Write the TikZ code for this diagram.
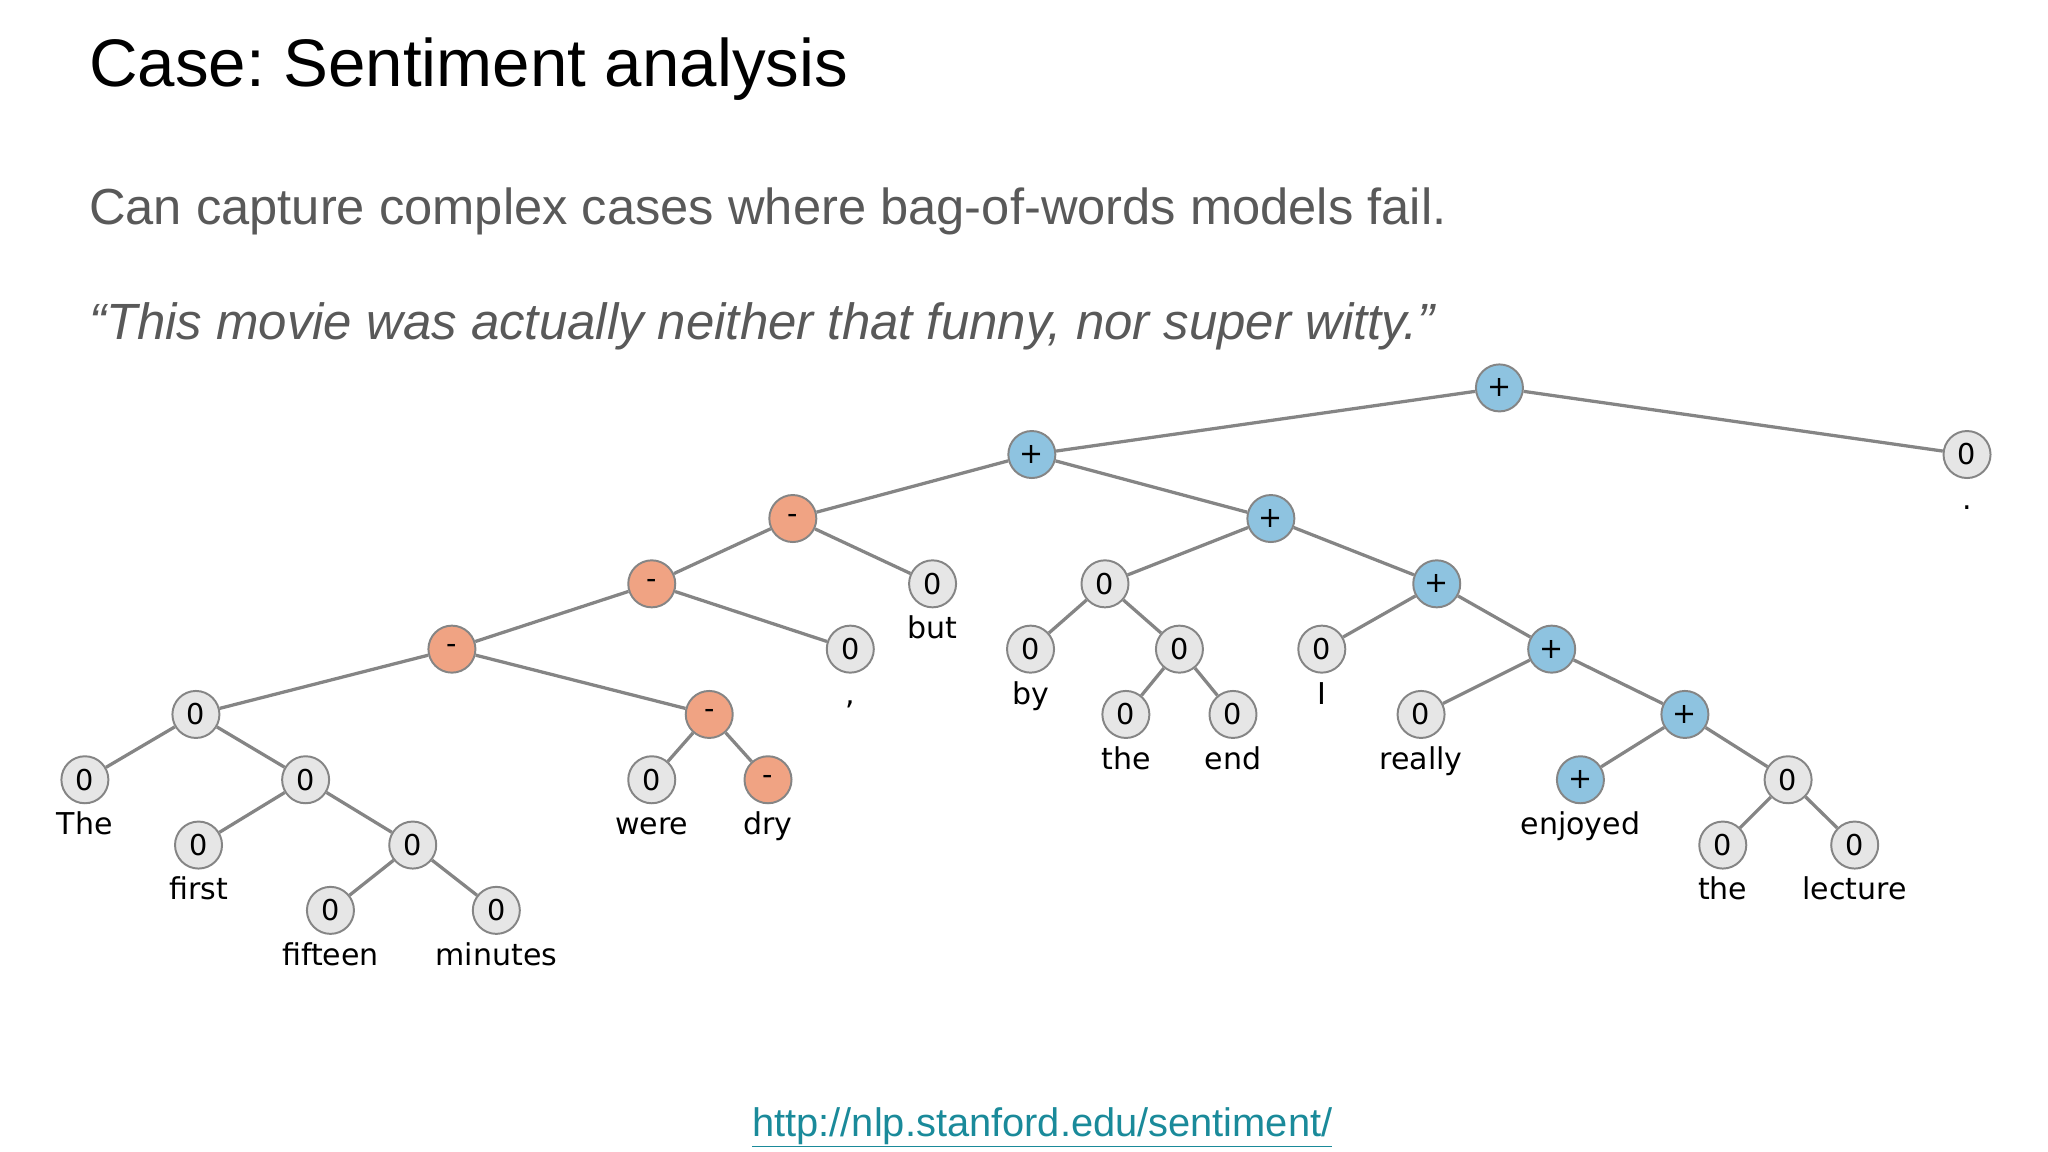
\documentclass[tikz,border=0pt]{standalone}
\usepackage{fontspec}
\setmainfont{Liberation Sans}
\newfontfamily\treefont{DejaVu Sans}
\frenchspacing
\definecolor{pos}{HTML}{8EC3E0}
\definecolor{neg}{HTML}{F0A383}
\definecolor{neu}{HTML}{E6E6E6}
\definecolor{edgec}{HTML}{858585}
\definecolor{txtgray}{HTML}{595959}
\definecolor{linkc}{HTML}{1A8A9A}
\begin{document}
\begin{tikzpicture}[x=1pt,y=-1pt,
  tn/.style={circle,draw=edgec,line width=1.5pt,minimum size=36pt,inner sep=0pt,font=\treefont\fontsize{22}{22}\selectfont},
  pn/.style={tn,fill=pos},
  nn/.style={tn,fill=neg},
  zn/.style={tn,fill=neu},
  lab/.style={font=\treefont\fontsize{23}{23}\selectfont,anchor=base},
  ed/.style={draw=edgec,line width=2.5pt},
  hd/.style={anchor=base west,inner sep=0pt}]
\useasboundingbox (0,0) rectangle (1568,882);
\node[hd,font=\fontsize{51.5}{51.5}\selectfont] (title) at (68,66) {Case: Sentiment analysis};
\node[hd,font=\fontsize{38.8}{38.8}\selectfont,text=txtgray] (sub) at (68,172) {Can capture complex cases where bag-of-words models fail.};
\node[hd,font=\itshape\fontsize{39}{39}\selectfont,text=txtgray] (quote) at (68,260) {“This movie was actually neither that funny, nor super witty.”};
\node[anchor=base,inner sep=0pt,font=\fontsize{30.5}{30.5}\selectfont,text=linkc] (url) at (798,870) {\underline{http://nlp.stanford.edu/sentiment/}};
% nodes
\node[pn] (r) at (1148,297) {+};
\node[zn] (dot) at (1506,348) {0};
\node[pn] (a) at (790,348) {+};
\node[nn] (b) at (607,397) {-};
\node[pn] (c) at (973,397) {+};
\node[nn] (d) at (499,447) {-};
\node[zn] (but) at (714,447) {0};
\node[nn] (e) at (346,497) {-};
\node[zn] (comma) at (651,497) {0};
\node[zn] (f) at (150,547) {0};
\node[nn] (g) at (543,547) {-};
\node[zn] (the1) at (65,597) {0};
\node[zn] (h) at (234,597) {0};
\node[zn] (first) at (152,647) {0};
\node[zn] (i) at (316,647) {0};
\node[zn] (fifteen) at (253,697) {0};
\node[zn] (minutes) at (380,697) {0};
\node[zn] (were) at (499,597) {0};
\node[nn] (dry) at (588,597) {-};
\node[zn] (j) at (846,447) {0};
\node[pn] (k) at (1100,447) {+};
\node[zn] (by) at (789,497) {0};
\node[zn] (l) at (903,497) {0};
\node[zn] (the2) at (862,547) {0};
\node[zn] (end) at (944,547) {0};
\node[zn] (I) at (1012,497) {0};
\node[pn] (m) at (1188,497) {+};
\node[zn] (really) at (1088,547) {0};
\node[pn] (n) at (1290,547) {+};
\node[pn] (enjoyed) at (1210,597) {+};
\node[zn] (o) at (1369,597) {0};
\node[zn] (the3) at (1319,647) {0};
\node[zn] (lecture) at (1420,647) {0};
% edges
\foreach \p/\q in {r/a,r/dot,a/b,a/c,b/d,b/but,d/e,d/comma,e/f,e/g,f/the1,f/h,h/first,h/i,i/fifteen,i/minutes,g/were,g/dry,c/j,c/k,j/by,j/l,l/the2,l/end,k/I,k/m,m/really,m/n,n/enjoyed,n/o,o/the3,o/lecture}
  \draw[ed] (\p) -- (\q);
% labels
\foreach \nd/\t in {dot/.,but/but,comma/{,},the1/The,first/first,fifteen/fifteen,minutes/minutes,were/were,dry/dry,by/by,the2/the,end/end,I/I,really/really,enjoyed/enjoyed,the3/the,lecture/lecture}
  \node[lab] (l-\nd) at ([yshift=-42pt]\nd.center) {\t};
\end{tikzpicture}
\end{document}
